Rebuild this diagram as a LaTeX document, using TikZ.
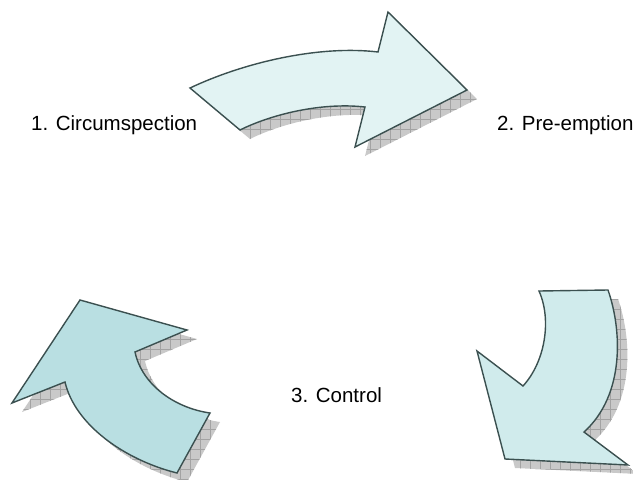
\documentclass[tikz,border=0pt]{standalone}
\usepackage{fontspec}
\setmainfont{Liberation Sans}

\definecolor{edge}{HTML}{3B5050}
\definecolor{fillA}{HTML}{E2F3F3}
\definecolor{fillB}{HTML}{D0EBEC}
\definecolor{fillC}{HTML}{B9DFE2}

% outlines of the three curved arrows
\def\arrowtop{(190,88) .. controls (245,62) and (320,45) .. (378,52) -- (388,12) -- (467,90) -- (355,147) -- (365,107) .. controls (320,102) and (270,115) .. (240,130) -- cycle}
\def\arrowright{(539,291) -- (608,290) .. controls (622,330) and (625,395) .. (584,432) -- (628,465) -- (505,459) -- (477,351) -- (523,386) .. controls (545,362) and (552,320) .. (539,291) -- cycle}
\def\arrowleft{(80,300) -- (187,330) -- (135,352) .. controls (142,385) and (175,408) .. (210,413) -- (177,473) .. controls (125,460) and (75,425) .. (65,382) -- (12,403) -- cycle}

\tikzset{
  arrowshape/.style={draw=edge, line width=1.4pt, line join=miter},
  label/.style={font=\fontsize{20.5}{24}\selectfont, inner sep=0pt, anchor=base west},
}

% hatched drop shadow of an arrow outline
\newcommand\hatchshadow[1]{%
  \begin{scope}[shift={(10,9)}]
    \clip #1;
    \fill[gray!42] (-20,-20) rectangle (700,520);
    \draw[gray!72, line width=0.45pt, step=10pt] (-20,-20) grid (700,520);
  \end{scope}}

\begin{document}
\begin{tikzpicture}[x=1pt, y=-1pt]
  \useasboundingbox (0,0) rectangle (633,480);

  \hatchshadow{\arrowtop}
  \hatchshadow{\arrowright}
  \hatchshadow{\arrowleft}

  \path[arrowshape, fill=fillA] \arrowtop;
  \path[arrowshape, fill=fillB] \arrowright;
  \path[arrowshape, fill=fillC] \arrowleft;

  \node[label] (circ) at (31,130) {1. Circumspection};
  \node[label] (pre)  at (497,130) {2. Pre-emption};
  \node[label] (ctrl) at (291,402) {3. Control};
\end{tikzpicture}
\end{document}
